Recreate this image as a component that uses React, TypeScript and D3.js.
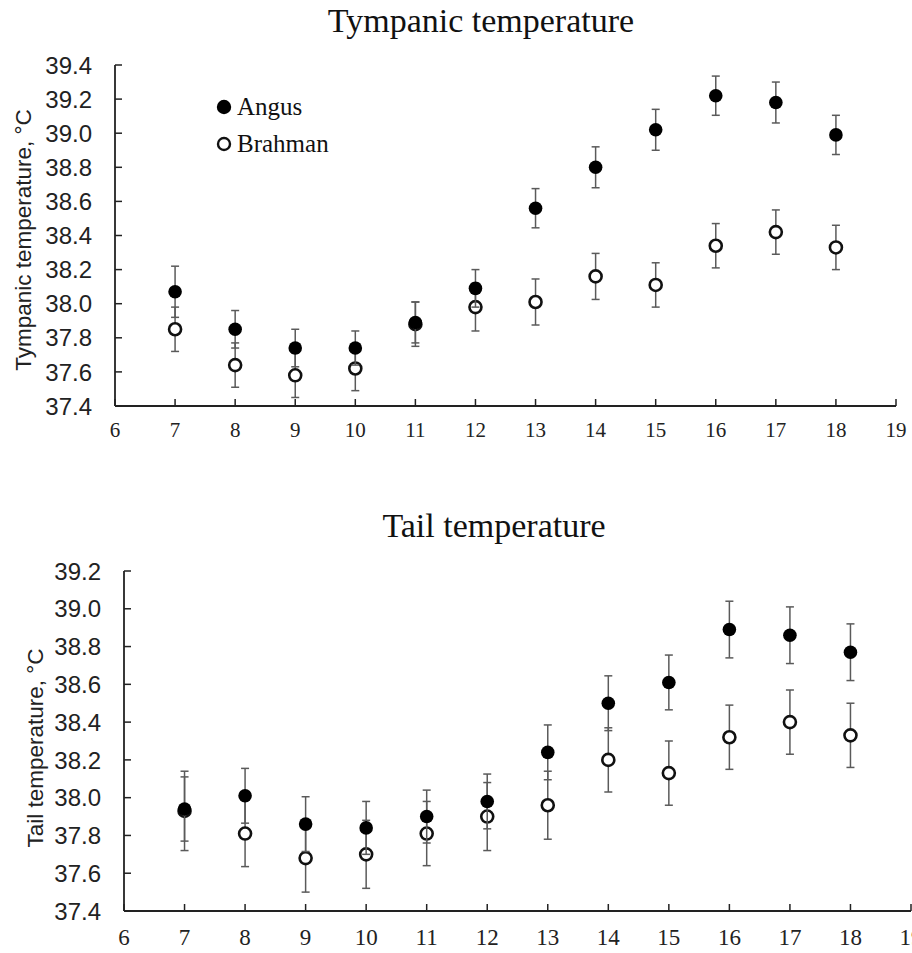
import React from "react";
import * as d3 from "d3";

const hours = [7, 8, 9, 10, 11, 12, 13, 14, 15, 16, 17, 18];
const xTicks = [6, 7, 8, 9, 10, 11, 12, 13, 14, 15, 16, 17, 18, 19];

const tympAngus = [38.07, 37.85, 37.74, 37.74, 37.89, 38.09, 38.56, 38.8, 39.02, 39.22, 39.18, 38.99];
const tympAngusSE = [0.15, 0.11, 0.11, 0.1, 0.12, 0.11, 0.115, 0.12, 0.12, 0.115, 0.12, 0.115];
const tympBrahman = [37.85, 37.64, 37.58, 37.62, 37.88, 37.98, 38.01, 38.16, 38.11, 38.34, 38.42, 38.33];
const tympBrahmanSE = [0.13, 0.13, 0.13, 0.13, 0.13, 0.14, 0.135, 0.135, 0.13, 0.13, 0.13, 0.13];
const tympYTicks = [37.4, 37.6, 37.8, 38.0, 38.2, 38.4, 38.6, 38.8, 39.0, 39.2, 39.4];

const tailAngus = [37.94, 38.01, 37.86, 37.84, 37.9, 37.98, 38.24, 38.5, 38.61, 38.89, 38.86, 38.77];
const tailAngusSE = [0.17, 0.145, 0.145, 0.14, 0.14, 0.145, 0.145, 0.145, 0.145, 0.15, 0.15, 0.15];
const tailBrahman = [37.93, 37.81, 37.68, 37.7, 37.81, 37.9, 37.96, 38.2, 38.13, 38.32, 38.4, 38.33];
const tailBrahmanSE = [0.21, 0.175, 0.18, 0.18, 0.17, 0.18, 0.18, 0.17, 0.17, 0.17, 0.17, 0.17];
const tailYTicks = [37.4, 37.6, 37.8, 38.0, 38.2, 38.4, 38.6, 38.8, 39.0, 39.2];

const SANS = "'Liberation Sans', Arial, sans-serif";
const SERIF = "'Liberation Serif', 'Times New Roman', serif";
const BAR = "#5a5a5a";
const AXIS = "#222";

type PanelProps = {
  title: string;
  titleX: number;
  titleY: number;
  yTitle: string;
  yTitleX: number;
  yTitleY: number;
  left: number;
  right: number;
  top: number;
  bottom: number;
  yTicks: number[];
  angus: number[];
  angusSE: number[];
  brahman: number[];
  brahmanSE: number[];
  xLabelY: number;
  xLabelSize: number;
  legend?: boolean;
};

function Panel(p: PanelProps) {
  const x = d3.scaleLinear().domain([6, 19]).range([p.left, p.right]);
  const y = d3
    .scaleLinear()
    .domain([p.yTicks[0], p.yTicks[p.yTicks.length - 1]])
    .range([p.bottom, p.top]);
  const fmt = d3.format(".1f");
  const r = 6.8;
  const cap = 4;

  const errBars = (vals: number[], se: number[], key: string) =>
    hours.map((h, i) => {
      const cx = x(h);
      const y1 = y(vals[i] + se[i]);
      const y2 = y(vals[i] - se[i]);
      return (
        <g key={key + i} stroke={BAR} strokeWidth={1.5}>
          <line x1={cx} x2={cx} y1={y1} y2={y2} />
          <line x1={cx - cap} x2={cx + cap} y1={y1} y2={y1} />
          <line x1={cx - cap} x2={cx + cap} y1={y2} y2={y2} />
        </g>
      );
    });

  return (
    <g>
      <text x={p.titleX} y={p.titleY} textAnchor="middle" fontFamily={SERIF} fontSize={34} fill="#111">
        {p.title}
      </text>
      <text
        transform={`translate(${p.yTitleX},${p.yTitleY}) rotate(-90)`}
        textAnchor="middle"
        fontFamily={SANS}
        fontSize={22.5}
        fill="#222"
      >
        {p.yTitle}
      </text>
      <line x1={p.left} x2={p.left} y1={p.top} y2={p.bottom} stroke={AXIS} strokeWidth={1.8} />
      <line x1={p.left} x2={p.right} y1={p.bottom} y2={p.bottom} stroke={AXIS} strokeWidth={1.8} />
      {p.yTicks.map((t) => (
        <g key={"yt" + t}>
          <line x1={p.left} x2={p.left + 7} y1={y(t)} y2={y(t)} stroke={AXIS} strokeWidth={1.5} />
          <text
            x={p.left - 23}
            y={y(t)}
            dy="0.36em"
            textAnchor="end"
            fontFamily={SANS}
            fontSize={24}
            fill="#222"
          >
            {fmt(t)}
          </text>
        </g>
      ))}
      {xTicks.map((t) => (
        <g key={"xt" + t}>
          <line x1={x(t)} x2={x(t)} y1={p.bottom} y2={p.bottom - 7} stroke={AXIS} strokeWidth={1.5} />
          <text x={x(t)} y={p.xLabelY} textAnchor="middle" fontFamily={SERIF} fontSize={p.xLabelSize} fill="#222">
            {t}
          </text>
        </g>
      ))}
      {errBars(p.brahman, p.brahmanSE, "be")}
      {hours.map((h, i) => (
        <circle key={"bm" + i} cx={x(h)} cy={y(p.brahman[i])} r={r - 0.8} fill="#fff" stroke="#111" strokeWidth={2.6} />
      ))}
      {errBars(p.angus, p.angusSE, "ae")}
      {hours.map((h, i) => (
        <circle key={"am" + i} cx={x(h)} cy={y(p.angus[i])} r={r} fill="#000" />
      ))}
      {p.legend && (
        <g>
          <circle cx={224} cy={107} r={7.2} fill="#000" />
          <text x={237} y={115} fontFamily={SERIF} fontSize={25} fill="#111">
            Angus
          </text>
          <circle cx={224} cy={144} r={6} fill="#fff" stroke="#111" strokeWidth={2.4} />
          <text x={237} y={152} fontFamily={SERIF} fontSize={25} fill="#111">
            Brahman
          </text>
        </g>
      )}
    </g>
  );
}

export default function App() {
  return (
    <svg
      width={912}
      height={953}
      viewBox="0 0 912 953"
      style={{ position: "absolute", left: 0, top: 0, background: "#fff" }}
    >
      <rect x={0} y={0} width={912} height={953} fill="#fff" />
      <Panel
        title="Tympanic temperature"
        titleX={481}
        titleY={32}
        yTitle="Tympanic temperature, °C"
        yTitleX={31}
        yTitleY={240}
        left={115}
        right={896}
        top={65}
        bottom={406}
        yTicks={tympYTicks}
        angus={tympAngus}
        angusSE={tympAngusSE}
        brahman={tympBrahman}
        brahmanSE={tympBrahmanSE}
        xLabelY={437}
        xLabelSize={21}
        legend
      />
      <Panel
        title="Tail temperature"
        titleX={494}
        titleY={537}
        yTitle="Tail temperature, °C"
        yTitleX={43}
        yTitleY={748}
        left={124}
        right={911}
        top={571}
        bottom={911}
        yTicks={tailYTicks}
        angus={tailAngus}
        angusSE={tailAngusSE}
        brahman={tailBrahman}
        brahmanSE={tailBrahmanSE}
        xLabelY={945}
        xLabelSize={23}
      />
    </svg>
  );
}
